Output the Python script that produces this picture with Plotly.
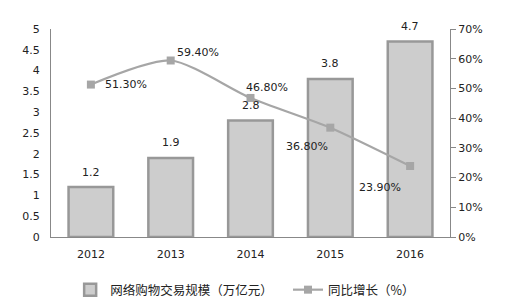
import plotly.graph_objects as go

years = ["2012", "2013", "2014", "2015", "2016"]
scale = [1.2, 1.9, 2.8, 3.8, 4.7]
growth = [0.513, 0.594, 0.468, 0.368, 0.239]
growth_labels = ["51.30%", "59.40%", "46.80%", "36.80%", "23.90%"]
bar_name = "网络购物交易规模（万亿元）"
line_name = "同比增长（%）"

num_font = dict(family="DejaVu Sans, Verdana, sans-serif", size=11, color="#222222")
leg_font = dict(family="Noto Sans CJK SC, sans-serif", size=12.5, color="#222222")

fig = go.Figure()
fig.add_trace(go.Bar(
    x=years, y=scale, name=bar_name, width=0.56, legend="legend",
    marker=dict(color="#cdcdcd", line=dict(color="#989898", width=2.5)),
))
fig.add_trace(go.Scatter(
    x=years, y=growth, name=line_name, yaxis="y2", mode="lines+markers", legend="legend2",
    line=dict(color="#a6a6a6", width=2.2, shape="spline", smoothing=0.7),
    marker=dict(symbol="square", size=8, color="#a6a6a6"),
))

annotations = []
for i, v in enumerate(scale):
    annotations.append(dict(x=i, y=v, xref="x", yref="y", text=str(v), showarrow=False,
                            yshift=15, font=num_font))
offsets = [(12, 0, "left"), (4, 8, "left"), (-7, 10, "left"), (-23, -19, "center"), (-30, -22, "center")]
for i, (v, lab, (dx, dy, anc)) in enumerate(zip(growth, growth_labels, offsets)):
    annotations.append(dict(x=i, y=v, xref="x", yref="y2", text=lab, showarrow=False,
                            xshift=dx, yshift=dy, xanchor=anc, font=num_font))

fig.update_layout(
    width=511, height=308,
    margin=dict(l=51, r=61, t=29, b=71, autoexpand=False),
    paper_bgcolor="white", plot_bgcolor="white",
    showlegend=True,
    annotations=annotations,
    xaxis=dict(type="category", range=[-0.5, 4.5], showline=True, linecolor="#888888",
               linewidth=1, ticks="", tickfont=num_font, showgrid=False,
               ticklabelstandoff=7),
    yaxis=dict(range=[0, 5], dtick=0.5, showline=True, linecolor="#888888", linewidth=1,
               showgrid=False, zeroline=False, tickfont=num_font, ticks="",
               tickformat="~g", ticklabelstandoff=8),
    yaxis2=dict(range=[0, 0.7], dtick=0.1, overlaying="y", side="right", showline=True,
                linecolor="#888888", linewidth=1, showgrid=False, zeroline=False,
                ticks="outside", ticklen=5, tickcolor="#888888", tickformat=".0%",
                tickfont=num_font),
    legend=dict(orientation="h", x=0.048, xanchor="left", y=-0.255, yanchor="middle",
                font=leg_font, bgcolor="rgba(0,0,0,0)"),
    legend2=dict(orientation="h", x=0.594, xanchor="left", y=-0.255, yanchor="middle",
                 font=leg_font, bgcolor="rgba(0,0,0,0)"),
)

fig.write_html("out.html")
